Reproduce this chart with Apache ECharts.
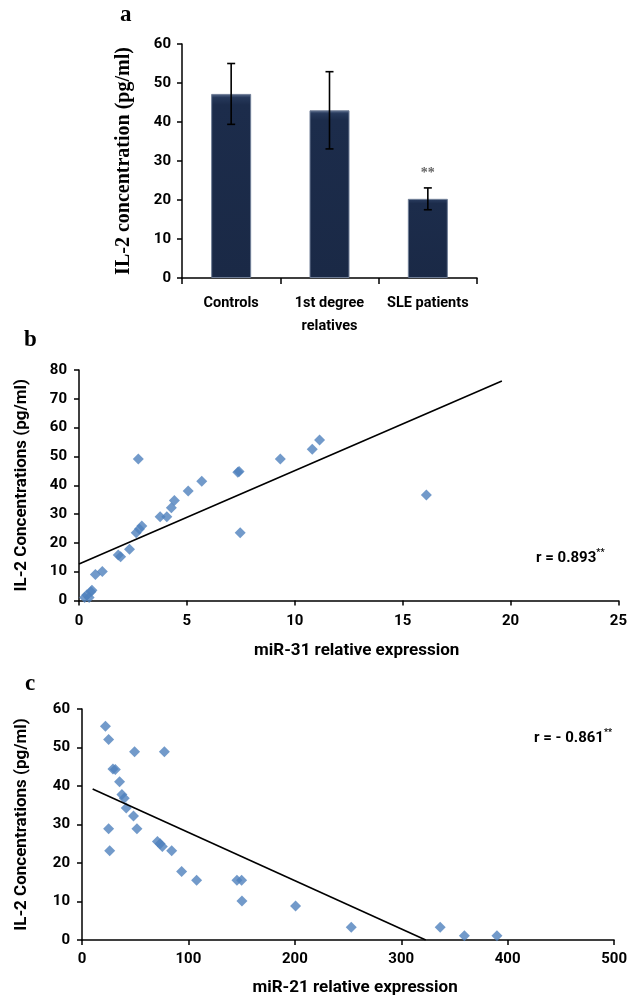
<!DOCTYPE html>
<html><head><meta charset="utf-8">
<script src="https://cdn.jsdelivr.net/npm/echarts@6/dist/echarts.min.js"></script>
<style>html,body{margin:0;padding:0;background:#fff}#c{width:630px;height:998px}</style>
</head><body><div id="c"></div>
<script>
// Panel a: bar chart
var groupNames = ['Controls', '1st degree\nrelatives', 'SLE patients'];
var groupMeans = [47.2, 43.0, 20.3];
var groupErrors = [7.8, 9.9, 2.8];
var groupSig = ['', '', '**'];
var yTicksA = [0, 60, 10];

// Panel b: miR-31 vs IL-2
var mir31Points = [
  [0.26,1.0],[0.36,1.9],[0.47,1.0],[0.55,3.0],[0.60,3.6],[0.76,9.0],[1.08,10.1],
  [1.82,15.8],[1.93,15.2],[2.34,17.8],[2.65,23.5],[2.80,24.8],[2.91,25.9],[2.75,49.1],
  [3.76,29.1],[4.07,29.1],[4.28,32.2],[4.42,34.7],[5.06,38.0],[5.69,41.4],[7.36,44.5],
  [7.42,44.8],[7.47,23.5],[9.33,49.1],[10.81,52.5],[11.15,55.7],[16.1,36.6]
];
var mir31Fit = [[0,12.7],[19.6,76.2]];
var mir31R = 'r = 0.893';

// Panel c: miR-21 vs IL-2
var mir21Points = [
  [22,55.5],[25,52.1],[49.4,48.9],[77.4,48.9],[29.1,44.4],[31.3,44.3],[35.3,41.1],
  [37.5,37.8],[39.7,36.8],[41.6,34.3],[48.4,32.2],[25,28.9],[51.6,28.9],[26,23.2],
  [70.9,25.6],[73.4,25.0],[75.5,24.3],[84.3,23.2],[93.6,17.8],[107.7,15.5],[145.6,15.5],
  [150,15.5],[150.3,10.1],[200.7,8.8],[253,3.3],[336.6,3.3],[359.3,1.1],[389.9,1.1]
];
var mir21Fit = [[10,39.2],[323,0]];
var mir21R = 'r = - 0.861';

var SANS = 'Roboto, "Liberation Sans", sans-serif';
var SERIF = '"Liberation Serif", "DejaVu Serif", serif';
var axisLine = {lineStyle:{color:'#000', width:1.5}};
var axisTick = {show:true, inside:false, length:5, lineStyle:{color:'#000', width:1.5}};
var tickLabel = {color:'#000', fontFamily:SANS, fontWeight:'bold', fontSize:15};

var chart = echarts.init(document.getElementById('c'), null, {renderer:'canvas'});
chart.setOption({
  backgroundColor:'#fff',
  animation:false,
  grid:[
    {left:182, top:44, width:295, height:234},
    {left:79, top:370, width:541, height:230.5},
    {left:82, top:709, width:536, height:231}
  ],
  xAxis:[
    {gridIndex:0, type:'category', data:groupNames, axisLine:axisLine,
     axisTick:{show:true, length:6, alignWithLabel:false, lineStyle:{color:'#000', width:1.5}},
     axisLabel:Object.assign({}, tickLabel, {fontSize:14.5, lineHeight:23, margin:14, interval:0})},
    {gridIndex:1, type:'value', min:0, max:25, interval:5, splitLine:{show:false},
     axisLine:axisLine, axisTick:axisTick, axisLabel:Object.assign({}, tickLabel, {margin:13}),
     name:'miR-31 relative expression', nameLocation:'middle', nameGap:42,
     nameTextStyle:{color:'#000', fontFamily:SANS, fontWeight:'bold', fontSize:17, padding:[0,0,0,16]}},
    {gridIndex:2, type:'value', min:0, max:500, interval:100, splitLine:{show:false},
     axisLine:axisLine, axisTick:axisTick, axisLabel:Object.assign({}, tickLabel, {margin:12}),
     name:'miR-21 relative expression', nameLocation:'middle', nameGap:39,
     nameTextStyle:{color:'#000', fontFamily:SANS, fontWeight:'bold', fontSize:17, padding:[0,0,0,14]}}
  ],
  yAxis:[
    {gridIndex:0, type:'value', min:yTicksA[0], max:yTicksA[1], interval:yTicksA[2], splitLine:{show:false},
     axisLine:Object.assign({show:true}, axisLine), axisTick:axisTick, axisLabel:Object.assign({}, tickLabel, {margin:11}),
     name:'IL-2 concentration (pg/ml)', nameLocation:'middle', nameGap:48,
     nameTextStyle:{color:'#000', fontFamily:SERIF, fontWeight:'bold', fontSize:20}},
    {gridIndex:1, type:'value', min:0, max:80, interval:10, splitLine:{show:false},
     axisLine:Object.assign({show:true}, axisLine), axisTick:axisTick, axisLabel:Object.assign({}, tickLabel, {margin:12}),
     name:'IL-2 Concentrations (pg/ml)', nameLocation:'middle', nameGap:49,
     nameTextStyle:{color:'#000', fontFamily:SANS, fontWeight:'bold', fontSize:17}},
    {gridIndex:2, type:'value', min:0, max:60, interval:10, splitLine:{show:false},
     axisLine:Object.assign({show:true}, axisLine), axisTick:axisTick, axisLabel:Object.assign({}, tickLabel, {margin:12}),
     name:'IL-2 Concentrations (pg/ml)', nameLocation:'middle', nameGap:52,
     nameTextStyle:{color:'#000', fontFamily:SANS, fontWeight:'bold', fontSize:17}}
  ],
  series:[
    {type:'bar', xAxisIndex:0, yAxisIndex:0, data:groupMeans, barWidth:40,
     itemStyle:{
       color:{type:'linear', x:0, y:0, x2:0, y2:1, colorStops:[
         {offset:0, color:'#5a6c8c'},{offset:0.02, color:'#26385a'},{offset:0.06, color:'#1c2c4b'},{offset:1, color:'#1a2946'}]},
       borderColor:'#6f7d96', borderWidth:1}},
    {type:'custom', xAxisIndex:0, yAxisIndex:0,
     data:groupMeans.map(function(m,i){return [i, m-groupErrors[i], m+groupErrors[i]];}),
     renderItem:function(params, api){
       var i = api.value(0);
       var lo = api.coord([i, api.value(1)]);
       var hi = api.coord([i, api.value(2)]);
       var cap = 4;
       var st = {stroke:'#000', lineWidth:1.6};
       var children = [
         {type:'line', shape:{x1:hi[0], y1:hi[1], x2:lo[0], y2:lo[1]}, style:st},
         {type:'line', shape:{x1:hi[0]-cap, y1:hi[1], x2:hi[0]+cap, y2:hi[1]}, style:st},
         {type:'line', shape:{x1:lo[0]-cap, y1:lo[1], x2:lo[0]+cap, y2:lo[1]}, style:st}
       ];
       if (groupSig[i]) {
         children.push({type:'text', style:{text:groupSig[i], x:hi[0], y:hi[1]-8, align:'center', verticalAlign:'bottom',
           fill:'#666', font:'bold 14px ' + SERIF}});
       }
       return {type:'group', children:children};
     }, z:5},
    {type:'scatter', xAxisIndex:1, yAxisIndex:1, data:mir31Points, symbol:'diamond', symbolSize:11,
     itemStyle:{color:'#4f81bd'}},
    {type:'line', xAxisIndex:1, yAxisIndex:1, data:mir31Fit, showSymbol:false, symbol:'none', silent:true,
     lineStyle:{color:'#000', width:1.6}},
    {type:'scatter', xAxisIndex:2, yAxisIndex:2, data:mir21Points, symbol:'diamond', symbolSize:11,
     itemStyle:{color:'#4f81bd'}},
    {type:'line', xAxisIndex:2, yAxisIndex:2, data:mir21Fit, showSymbol:false, symbol:'none', silent:true,
     lineStyle:{color:'#000', width:1.6}}
  ],
  graphic:[
    {type:'text', left:120, top:4, style:{text:'a', font:'bold 23px ' + SERIF, fill:'#000'}},
    {type:'text', left:24, top:329, style:{text:'b', font:'bold 23px ' + SERIF, fill:'#000'}},
    {type:'text', left:25, top:673, style:{text:'c', font:'bold 23px ' + SERIF, fill:'#000'}},
    {type:'text', left:536, top:548, style:{text:'{a|' + mir31R + '}{s|**}',
      rich:{a:{fontFamily:SANS, fontWeight:'bold', fontSize:15, color:'#000', lineHeight:20},
            s:{fontFamily:SANS, fontWeight:'bold', fontSize:9, color:'#000', verticalAlign:'top', lineHeight:20, padding:[0,0,10,0]}}}},
    {type:'text', left:534, top:728, style:{text:'{a|' + mir21R + '}{s|**}',
      rich:{a:{fontFamily:SANS, fontWeight:'bold', fontSize:15, color:'#000', lineHeight:20},
            s:{fontFamily:SANS, fontWeight:'bold', fontSize:9, color:'#000', verticalAlign:'top', lineHeight:20, padding:[0,0,10,0]}}}}
  ]
});
</script></body></html>
